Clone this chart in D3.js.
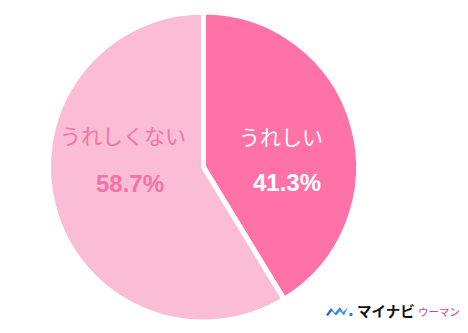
<!DOCTYPE html>
<html><head><meta charset="utf-8">
<script src="https://cdn.jsdelivr.net/npm/d3@7/dist/d3.min.js"></script>
<style>body{margin:0;background:#fff}svg{display:block}</style>
</head><body>
<svg id="c" width="468" height="333"></svg>
<script>
const categories = ["うれしい", "うれしくない"];
const values = [41.3, 58.7];
const valueLabels = ["41.3%", "58.7%"];
const colors = ["#FF72A8", "#FABDD4"];
const textColors = ["#FFFFFF", "#F472A6"];

const svg = d3.select("#c");
const cx = 203.5, cy = 167, r = 155;
const g = svg.append("g").attr("transform", `translate(${cx},${cy})`);
const pie = d3.pie().sort(null).value(d => d)(values);
const arc = d3.arc().innerRadius(0).outerRadius(r);
g.selectAll("path").data(pie).join("path")
  .attr("d", arc).attr("fill", (d,i) => colors[i])
  .attr("stroke", "#fff").attr("stroke-width", 5).attr("stroke-linejoin", "miter");

const labelPos = [[281, 145], [123, 144]];
const valPos = [[287, 191], [130, 192]];
g.selectAll("text.cat").data(pie).join("text").attr("class","cat")
  .attr("x", (d,i) => labelPos[i][0]-cx).attr("y", (d,i) => labelPos[i][1]-cy)
  .attr("text-anchor","middle").attr("fill",(d,i)=>textColors[i])
  .attr("font-family","'Noto Sans CJK JP', sans-serif").attr("font-size",21)
  .text((d,i)=>categories[i]);
g.selectAll("text.val").data(pie).join("text").attr("class","val")
  .attr("x", (d,i) => valPos[i][0]-cx).attr("y", (d,i) => valPos[i][1]-cy)
  .attr("text-anchor","middle").attr("fill",(d,i)=>textColors[i])
  .attr("font-family","'Liberation Sans', Arial, sans-serif").attr("font-weight","bold").attr("font-size",24)
  .text((d,i)=>valueLabels[i]);

// logo
const logo = svg.append("g").attr("transform","translate(326,307)");
const grad = svg.append("defs").append("linearGradient").attr("id","lg").attr("x1","0").attr("x2","1");
grad.append("stop").attr("offset","0").attr("stop-color","#1f63d6");
grad.append("stop").attr("offset","1").attr("stop-color","#3aa6ee");
logo.append("path").attr("d","M0,8 L5,1 L9,6 L14,0 L17,5 L22,0 L18,8.5 L14,4 L10,8.5 L6,4 L2,9 Z")
  .attr("fill","url(#lg)");
logo.append("circle").attr("cx",25).attr("cy",7.5).attr("r",1.7).attr("fill","#2a7fe0");
svg.append("text").attr("x",357).attr("y",317).attr("font-family","'Noto Sans CJK JP', sans-serif")
  .attr("font-weight","bold").attr("font-size",14.5).attr("fill","#111").text("マイナビ");
svg.append("text").attr("x",418).attr("y",316).attr("font-family","'Noto Sans CJK JP', sans-serif")
  .attr("font-size",10.5).attr("fill","#E0417F").text("ウーマン");
</script>
</body></html>
